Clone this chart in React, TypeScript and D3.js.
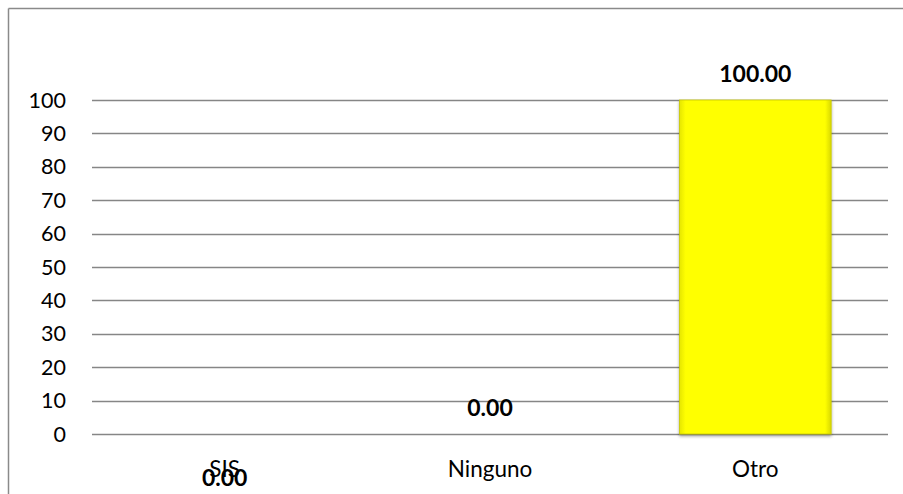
import React from "react";
import * as d3 from "d3";

const categories = ["SIS", "Ninguno", "Otro"];
const values = [0, 0, 100];
const labelPlacement = ["below", "above", "above"];
const yTicks = [0, 10, 20, 30, 40, 50, 60, 70, 80, 90, 100];

const W = 903;
const H = 494;
const plot = { left: 92, right: 888, top: 100, bottom: 434 };
const FONT = "Lato, Carlito, 'Liberation Sans', sans-serif";

export default function App() {
  const x = d3
    .scaleBand<string>()
    .domain(categories)
    .range([plot.left, plot.right])
    .paddingInner(0.75 / 1.75)
    .paddingOuter(0.75 / 1.75 / 2);
  const y = d3.scaleLinear().domain([0, 100]).range([plot.bottom, plot.top]);
  const bw = x.bandwidth();

  return (
    <svg
      width={W}
      height={H}
      style={{ position: "absolute", left: 0, top: 0, background: "#fff" }}
      fontFamily={FONT}
    >
      <defs>
        <linearGradient id="barGrad" x1="0" x2="1" y1="0" y2="0">
          <stop offset="0" stopColor="#e6e600" />
          <stop offset="0.04" stopColor="#ffff00" />
          <stop offset="0.96" stopColor="#ffff00" />
          <stop offset="1" stopColor="#d9d900" />
        </linearGradient>
        <filter id="shadow" x="-10%" y="-10%" width="120%" height="120%">
          <feDropShadow dx="0" dy="2" stdDeviation="1.5" floodColor="#000" floodOpacity="0.35" />
        </filter>
      </defs>
      {/* frame */}
      <line x1={8.5} x2={8.5} y1={8.5} y2={H} stroke="#8a8a8a" strokeWidth={1.5} />
      <line x1={8.5} x2={W} y1={8.5} y2={8.5} stroke="#8a8a8a" strokeWidth={1.5} />
      {/* gridlines & ticks */}
      {yTicks.map((t) => (
        <g key={t}>
          <line
            x1={plot.left}
            x2={plot.right}
            y1={Math.round(y(t)) + 0.5}
            y2={Math.round(y(t)) + 0.5}
            stroke="#868686"
            strokeWidth={1.3}
          />
          <text x={66} y={y(t) + 7.5} textAnchor="end" fontSize={21.5} fill="#000">
            {t}
          </text>
        </g>
      ))}
      {/* bars */}
      {categories.map((c, i) =>
        values[i] > 0 ? (
          <rect
            key={c}
            x={x(c)!}
            y={y(values[i])}
            width={bw}
            height={y(0) - y(values[i])}
            fill="url(#barGrad)"
            stroke="#c8c800"
            strokeWidth={0.8}
            filter="url(#shadow)"
          />
        ) : null
      )}
      {/* category labels */}
      {categories.map((c) => (
        <text key={c} x={x(c)! + bw / 2} y={477} textAnchor="middle" fontSize={22.5} fill="#000">
          {c}
        </text>
      ))}
      {/* data labels */}
      {categories.map((c, i) => (
        <text
          key={c}
          x={x(c)! + bw / 2}
          y={labelPlacement[i] === "above" ? y(values[i]) - 18.5 : 486}
          textAnchor="middle"
          fontSize={23}
          fontWeight="bold"
          fill="#000"
        >
          {values[i].toFixed(2)}
        </text>
      ))}
    </svg>
  );
}
